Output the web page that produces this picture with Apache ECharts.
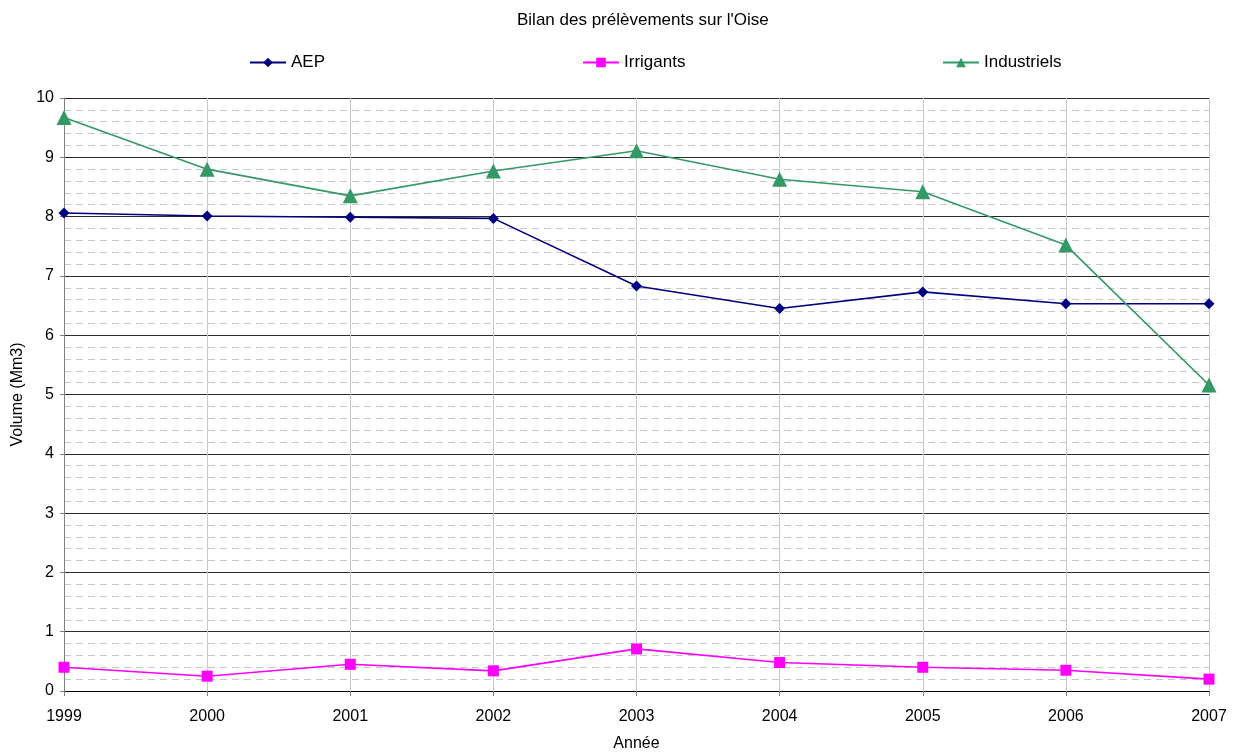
<!DOCTYPE html>
<html>
<head>
<meta charset="utf-8">
<script src="https://cdn.jsdelivr.net/npm/echarts@6/dist/echarts.min.js"></script>
<style>
  html, body { margin: 0; padding: 0; background: #fff; }
  #chart { width: 1240px; height: 754px; }
</style>
</head>
<body>
<div id="chart"></div>
<script>
// Prélèvements annuels sur l'Oise (Mm3)
const years = ['1999', '2000', '2001', '2002', '2003', '2004', '2005', '2006', '2007'];
const aep = [8.06, 8.01, 7.99, 7.97, 6.83, 6.45, 6.73, 6.53, 6.53];
const irrigants = [0.40, 0.25, 0.45, 0.34, 0.71, 0.48, 0.40, 0.35, 0.20];
const industriels = [9.67, 8.80, 8.35, 8.77, 9.11, 8.63, 8.42, 7.52, 5.16];

const FONT = 'Liberation Sans, Arial, sans-serif';
const chart = echarts.init(document.getElementById('chart'), null, { renderer: 'canvas' });

const legendText = { fontFamily: FONT, fontSize: 17, color: '#000' };
function legendFor(name, left) {
  return {
    data: [name], left: left, top: 54, itemWidth: 36, itemHeight: 12,
    itemGap: 2, textStyle: legendText, padding: 0
  };
}

chart.setOption({
  animation: false,
  title: {
    text: "Bilan des prélèvements sur l'Oise",
    left: 512, top: 7,
    textStyle: { fontFamily: FONT, fontSize: 17, fontWeight: 'normal', color: '#000' }
  },
  legend: [
    legendFor('AEP', 249),
    legendFor('Irrigants', 582),
    legendFor('Industriels', 942)
  ],
  grid: {
    left: 64, right: 31, top: 98, bottom: 63,
    containLabel: false, outerBoundsMode: 'none'
  },
  xAxis: {
    type: 'category', data: years, boundaryGap: false,
    name: 'Année', nameLocation: 'middle', nameGap: 45,
    nameTextStyle: { fontFamily: FONT, fontSize: 16, color: '#000' },
    axisLine: { lineStyle: { color: '#000', width: 1 } },
    axisTick: { show: true, inside: false, length: 5, lineStyle: { color: '#808080' } },
    axisLabel: { fontFamily: FONT, fontSize: 16, color: '#000', margin: 18 },
    splitLine: { show: true, lineStyle: { color: '#c8c8c8', width: 1 } }
  },
  yAxis: {
    type: 'value', min: 0, max: 10, interval: 1,
    name: 'Volume (Mm3)', nameLocation: 'middle', nameGap: 32, nameRotate: 90,
    nameTextStyle: { fontFamily: FONT, fontSize: 16, color: '#000' },
    axisLine: { show: true, lineStyle: { color: '#808080', width: 1 } },
    axisTick: { show: true, inside: false, length: 4, lineStyle: { color: '#808080' } },
    axisLabel: { fontFamily: FONT, fontSize: 16, color: '#000', margin: 10 },
    splitLine: { show: true, lineStyle: { color: '#2a2a2a', width: 1 } },
    minorTick: { show: false, splitNumber: 5 },
    minorSplitLine: { show: true, lineStyle: { color: '#c8c8c8', width: 1, type: [7, 5] } }
  },
  series: [
    {
      name: 'AEP', type: 'line', data: aep,
      symbol: 'diamond', symbolSize: 11, showAllSymbol: true,
      itemStyle: { color: '#000080' },
      lineStyle: { color: '#000080', width: 1.6 }
    },
    {
      name: 'Irrigants', type: 'line', data: irrigants,
      symbol: 'rect', symbolSize: 11, showAllSymbol: true,
      itemStyle: { color: '#ff00ff' },
      lineStyle: { color: '#ff00ff', width: 1.6 }
    },
    {
      name: 'Industriels', type: 'line', data: industriels,
      symbol: 'triangle', symbolSize: 15, showAllSymbol: true,
      itemStyle: { color: '#339966' },
      lineStyle: { color: '#339966', width: 1.6 }
    }
  ]
});
</script>
</body>
</html>
